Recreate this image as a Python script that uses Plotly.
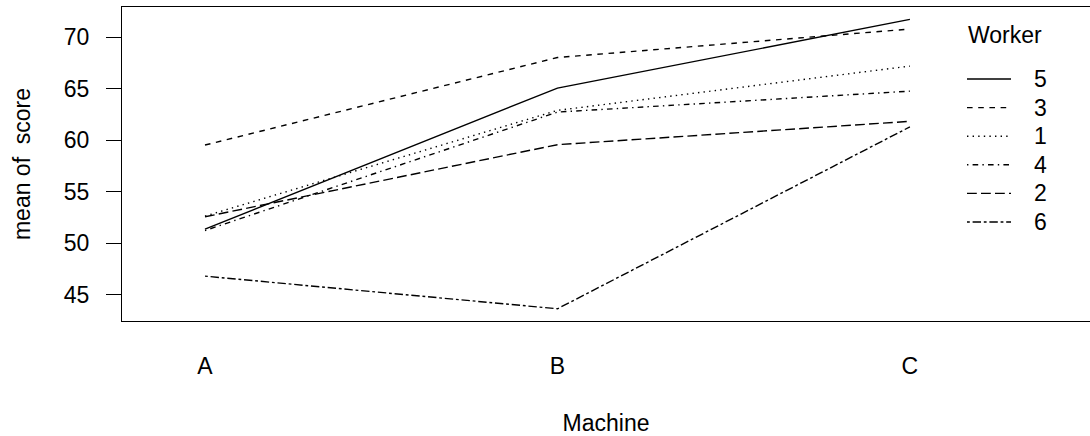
import plotly.graph_objects as go

# Mean score per worker on each machine
machines = ["A", "B", "C"]
machine_pos = [1, 2, 3]
workers = ["5", "3", "1", "4", "2", "6"]
score_w5 = [51.36667, 65.06667, 71.73333]
score_w3 = [59.53333, 68.03333, 70.80000]
score_w1 = [52.63333, 62.90000, 67.20000]
score_w4 = [51.23333, 62.73333, 64.76667]
score_w2 = [52.56667, 59.56667, 61.83333]
score_w6 = [46.80000, 43.63333, 61.30000]
y_ticks = [45, 50, 55, 60, 65, 70]

series = [score_w5, score_w3, score_w1, score_w4, score_w2, score_w6]
# R-style line types: solid, dashed, dotted, dotdash, longdash, twodash
dashes = [
    "solid",
    "5.6px,5.6px",
    "1.4px,4.2px",
    "1.4px,4.2px,5.6px,4.2px",
    "9.8px,4.2px",
    "2.8px,2.8px,8.4px,2.8px",
]

FONT = "Liberation Sans, Arial, sans-serif"
FS = 23
W, H = 1090, 436
ML, MT, MB = 122, 7, 115
PW, PH = W - ML, H - MT - MB

def px_x(p):
    return (p - ML) / PW

def px_y(p):
    return 1 - (p - MT) / PH

fig = go.Figure()
for name, vals, dash in zip(workers, series, dashes):
    fig.add_trace(go.Scatter(
        x=machine_pos, y=vals, mode="lines", name=name,
        line=dict(color="black", width=1.4, dash=dash),
        hoverinfo="skip", showlegend=False,
    ))

# Legend block in the right margin of the plot area
fig.add_annotation(
    text="Worker", xref="paper", yref="paper",
    x=px_x(966), y=px_y(35), xanchor="left", yanchor="middle",
    showarrow=False, font=dict(family=FONT, size=FS),
)
row_gap = 28.6
for i, (name, dash) in enumerate(zip(workers, dashes)):
    yy = px_y(79 + i * row_gap)
    fig.add_shape(
        type="line", xref="paper", yref="paper",
        x0=px_x(967), x1=px_x(1011), y0=yy, y1=yy,
        line=dict(color="black", width=1.4, dash=dash),
    )
    fig.add_annotation(
        text=name, xref="paper", yref="paper",
        x=px_x(1032), y=yy, xanchor="left", yanchor="middle",
        showarrow=False, font=dict(family=FONT, size=FS),
    )

fig.update_layout(
    width=W, height=H,
    margin=dict(l=ML, r=0, t=MT, b=MB),
    paper_bgcolor="white", plot_bgcolor="white",
    font=dict(family=FONT, size=FS, color="black"),
    showlegend=False,
    xaxis=dict(
        range=[0.7645, 3.511], tickvals=machine_pos, ticktext=machines,
        showgrid=False, zeroline=False,
        showline=True, linecolor="black", linewidth=1.3, mirror=True,
        ticks="outside", ticklen=24, tickcolor="rgba(0,0,0,0)",
        title=dict(text="Machine", standoff=38, font=dict(family=FONT, size=FS)),
    ),
    yaxis=dict(
        range=[42.445, 72.94], tickvals=y_ticks,
        showgrid=False, zeroline=False,
        showline=True, linecolor="black", linewidth=1.3,
        ticks="outside", ticklen=15, tickwidth=1.3, tickcolor="black",
        ticklabelstandoff=12,
        title=dict(text="mean of\u00a0 score", standoff=26,
                   font=dict(family=FONT, size=FS)),
    ),
)

fig.write_html("out.html")
